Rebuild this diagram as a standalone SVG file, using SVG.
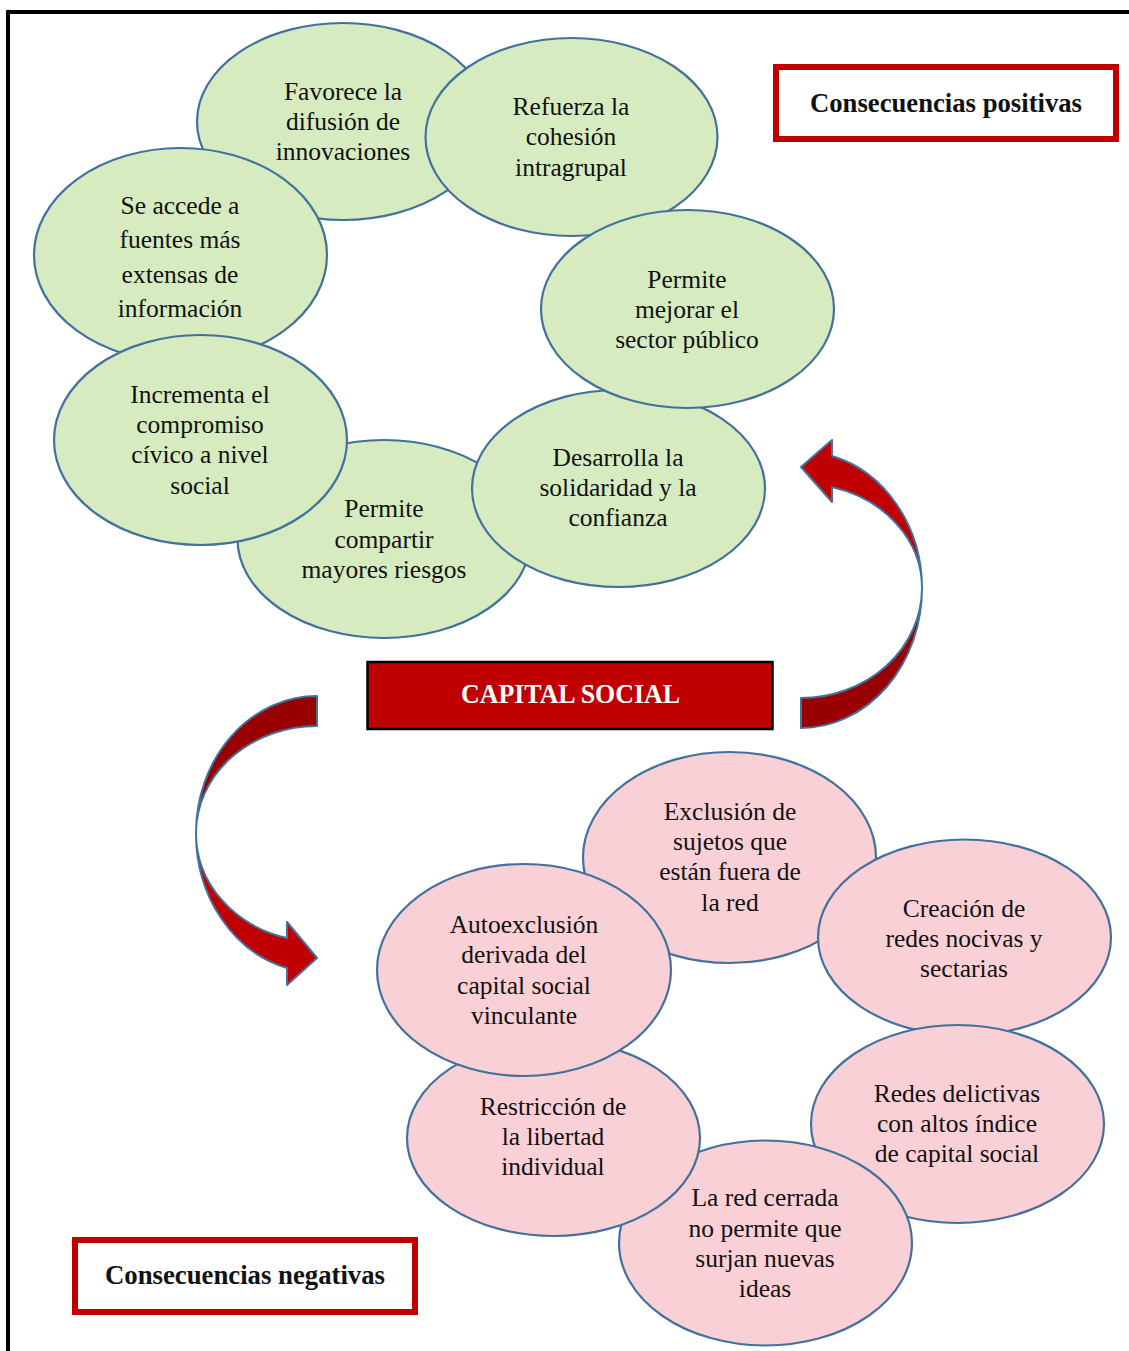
<svg xmlns="http://www.w3.org/2000/svg" width="1129" height="1351" viewBox="0 0 1129 1351">
  <style>
    .pos { fill: #d7ebc1; stroke: #41719c; stroke-width: 2.2; }
    .neg { fill: #f9d0d6; stroke: #41719c; stroke-width: 2.2; }
    .lbl { font-family: "Liberation Serif", "DejaVu Serif", serif; font-size: 25.5px; fill: #111; text-anchor: middle; }
    .title { font-family: "Liberation Serif", "DejaVu Serif", serif; font-size: 26.5px; font-weight: bold; fill: #111; text-anchor: middle; }
    .frame { fill: #ffffff; stroke: #c00000; stroke-width: 6; }
    .front { fill: #c00000; stroke: #41719c; stroke-width: 2; stroke-linejoin: round; }
    .back { fill: #990000; stroke: #41719c; stroke-width: 2; stroke-linejoin: round; }
  </style>

  <rect x="0" y="0" width="1129" height="1351" fill="#ffffff"/>

  <!-- page border (top and left) -->
  <g id="border" stroke="#000" stroke-width="4" fill="none">
    <line x1="6" y1="12" x2="1129" y2="12"/>
    <line x1="8" y1="10" x2="8" y2="1351"/>
  </g>

  <!-- positive consequences -->
  <g id="pos-favorece">
    <ellipse class="pos" cx="343" cy="121.5" rx="146" ry="98.5"/>
    <text class="lbl"><tspan x="343" y="100">Favorece la</tspan><tspan x="343" y="130">difusión de</tspan><tspan x="343" y="160">innovaciones</tspan></text>
  </g>
  <g id="pos-refuerza">
    <ellipse class="pos" cx="571.5" cy="137" rx="146" ry="99"/>
    <text class="lbl"><tspan x="571" y="115">Refuerza la</tspan><tspan x="571" y="145">cohesión</tspan><tspan x="571" y="176">intragrupal</tspan></text>
  </g>
  <g id="pos-accede">
    <ellipse class="pos" cx="180.5" cy="255" rx="146.5" ry="107"/>
    <text class="lbl"><tspan x="180" y="214">Se accede a</tspan><tspan x="180" y="248">fuentes más</tspan><tspan x="180" y="283">extensas de</tspan><tspan x="180" y="317">información</tspan></text>
  </g>
  <g id="pos-compartir">
    <ellipse class="pos" cx="384" cy="539" rx="146.5" ry="99"/>
    <text class="lbl"><tspan x="384" y="517">Permite</tspan><tspan x="384" y="548">compartir</tspan><tspan x="384" y="578">mayores riesgos</tspan></text>
  </g>
  <g id="pos-desarrolla">
    <ellipse class="pos" cx="618.5" cy="488.5" rx="146.5" ry="98.5"/>
    <text class="lbl"><tspan x="618" y="466">Desarrolla la</tspan><tspan x="618" y="496">solidaridad y la</tspan><tspan x="618" y="526">confianza</tspan></text>
  </g>
  <g id="pos-mejorar">
    <ellipse class="pos" cx="687.5" cy="309" rx="146.5" ry="99"/>
    <text class="lbl"><tspan x="687" y="288">Permite</tspan><tspan x="687" y="318">mejorar el</tspan><tspan x="687" y="348">sector público</tspan></text>
  </g>
  <g id="pos-incrementa">
    <ellipse class="pos" cx="200.5" cy="440" rx="146.5" ry="105"/>
    <text class="lbl"><tspan x="200" y="403">Incrementa el</tspan><tspan x="200" y="433">compromiso</tspan><tspan x="200" y="463">cívico a nivel</tspan><tspan x="200" y="494">social</tspan></text>
  </g>

  <!-- headings -->
  <g id="heading-positive">
    <rect class="frame" x="776" y="67" width="340" height="72"/>
    <text class="title" x="946" y="112" textLength="272" lengthAdjust="spacingAndGlyphs">Consecuencias positivas</text>
  </g>
  <g id="heading-negative">
    <rect class="frame" x="75" y="1240" width="340" height="72"/>
    <text class="title" x="245" y="1284" textLength="280" lengthAdjust="spacingAndGlyphs">Consecuencias negativas</text>
  </g>

  <!-- central node -->
  <g id="capital-social">
    <rect x="367.5" y="662" width="405" height="67" fill="#c00000" stroke="#000" stroke-width="2.5"/>
    <text class="title" x="570.5" y="703" style="fill:#ffffff" textLength="219" lengthAdjust="spacingAndGlyphs">CAPITAL SOCIAL</text>
  </g>

  <!-- curved arrows -->
  <g id="connectors">
    <!-- capital social -> positive consequences -->
    <path class="back" d="M 922 588 A 121 140 0 0 1 801 728 L 801 698 A 121 110 0 0 0 922 588 Z"/>
    <path class="front" d="M 922 588 A 121 104 0 0 0 832 487 L 832 502 L 801 467 L 832 440 L 832 456 A 121 137 0 0 1 922 588 Z"/>
    <!-- capital social -> negative consequences -->
    <path class="back" d="M 317 696 A 121 137 0 0 0 196 833 A 121 107 0 0 1 317 726 Z"/>
    <path class="front" d="M 196 833 A 121 139 0 0 0 287 968 L 287 985 L 317 958 L 287 922 L 287 938 A 121 108 0 0 1 196 833 Z"/>
  </g>

  <!-- negative consequences -->
  <g id="neg-exclusion">
    <ellipse class="neg" cx="729.5" cy="857.5" rx="146.5" ry="105.5"/>
    <text class="lbl"><tspan x="730" y="820">Exclusión de</tspan><tspan x="730" y="850">sujetos que</tspan><tspan x="730" y="880">están fuera de</tspan><tspan x="730" y="911">la red</tspan></text>
  </g>
  <g id="neg-creacion">
    <ellipse class="neg" cx="964.5" cy="937.5" rx="146.5" ry="98"/>
    <text class="lbl"><tspan x="964" y="917">Creación de</tspan><tspan x="964" y="947">redes nocivas y</tspan><tspan x="964" y="977">sectarias</tspan></text>
  </g>
  <g id="neg-delictivas">
    <ellipse class="neg" cx="957.5" cy="1124" rx="146.5" ry="99"/>
    <text class="lbl"><tspan x="957" y="1102">Redes delictivas</tspan><tspan x="957" y="1132">con altos índice</tspan><tspan x="957" y="1162">de capital social</tspan></text>
  </g>
  <g id="neg-cerrada">
    <ellipse class="neg" cx="765.5" cy="1243" rx="146.5" ry="102.5"/>
    <text class="lbl"><tspan x="765" y="1206">La red cerrada</tspan><tspan x="765" y="1237">no permite que</tspan><tspan x="765" y="1267">surjan nuevas</tspan><tspan x="765" y="1297">ideas</tspan></text>
  </g>
  <g id="neg-restriccion">
    <ellipse class="neg" cx="553.5" cy="1138" rx="146.5" ry="98"/>
    <text class="lbl"><tspan x="553" y="1115">Restricción de</tspan><tspan x="553" y="1145">la libertad</tspan><tspan x="553" y="1175">individual</tspan></text>
  </g>
  <g id="neg-autoexclusion">
    <ellipse class="neg" cx="524" cy="970" rx="147" ry="106"/>
    <text class="lbl"><tspan x="524" y="933">Autoexclusión</tspan><tspan x="524" y="963">derivada del</tspan><tspan x="524" y="994">capital social</tspan><tspan x="524" y="1024">vinculante</tspan></text>
  </g>
</svg>
